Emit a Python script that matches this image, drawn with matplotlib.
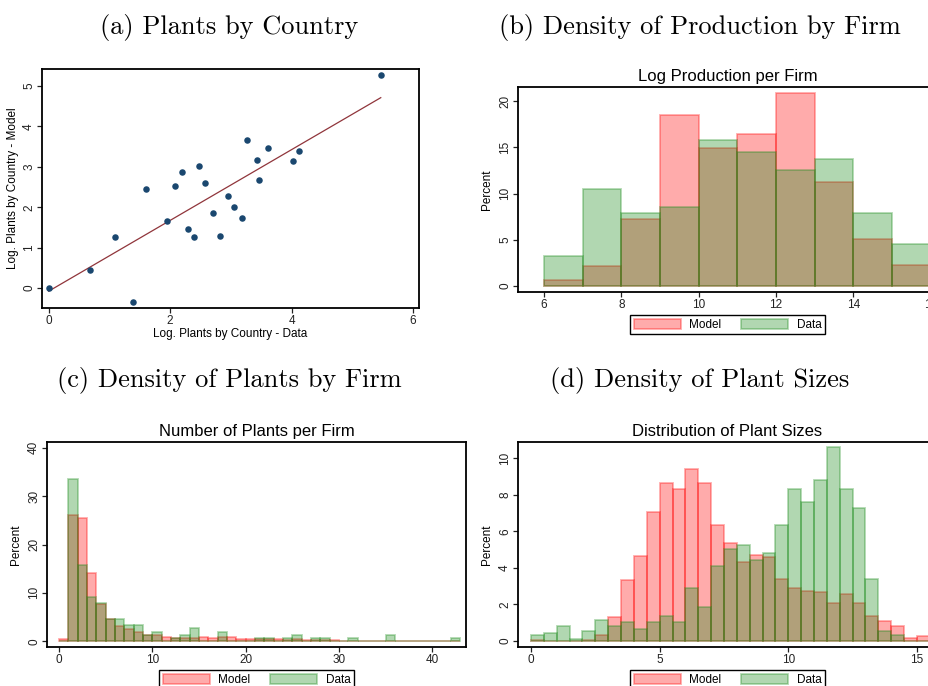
import numpy as np
import matplotlib
matplotlib.use("Agg")
import matplotlib.pyplot as plt

plt.rcParams["font.family"] = ["Liberation Sans", "DejaVu Sans"]

W, H = 929, 686

# (a) log plants by country: data vs model
country_data = [0.0, 0.687, 1.10, 1.385, 1.60, 1.945, 2.077, 2.198, 2.30, 2.40, 2.48, 2.57,
                2.71, 2.83, 2.95, 3.05, 3.18, 3.26, 3.43, 3.47, 3.62, 4.03, 4.12, 5.47]
country_model = [0.0, 0.46, 1.27, -0.34, 2.46, 1.65, 2.53, 2.87, 1.46, 1.26, 3.02, 2.61,
                 1.86, 1.29, 2.29, 2.01, 1.74, 3.66, 3.18, 2.67, 3.46, 3.14, 3.40, 5.26]

# (b) log production per firm, bins of width 1 starting at 6
prod_edges = np.arange(6, 16)
prod_model = [0.65, 2.17, 7.3, 18.5, 14.9, 16.5, 20.9, 11.3, 5.1, 2.24]
prod_data = [3.25, 10.5, 7.9, 8.6, 15.8, 14.5, 12.6, 13.8, 7.9, 4.6]

# (c) number of plants per firm, bins of width 1 starting at 0
plants_edges = np.arange(0, 43)
plants_model = [0.5, 26.1, 25.5, 14.1, 7.6, 4.6, 3.2, 2.6, 2.0, 1.3, 1.2, 0.97, 0.76, 0.62,
                0.76, 0.97, 0.69, 0.97, 0.97, 0.55, 0.55, 0.48, 0.48, 0.55, 0.34, 0.48, 0.34,
                0.34, 0.34, 0.34, 0.14, 0.14, 0, 0, 0, 0, 0, 0, 0, 0, 0, 0, 0]
plants_data = [0, 33.6, 15.8, 9.2, 7.9, 4.6, 4.6, 3.3, 3.3, 1.3, 1.97, 0, 0.66, 1.32,
               2.63, 0, 0, 1.97, 0, 0, 0, 0.66, 0.66, 0, 0.66, 1.32, 0, 0.66, 0.66, 0,
               0, 0.66, 0, 0, 0, 1.32, 0, 0, 0, 0, 0, 0, 0.66]

# (d) plant sizes, bins of width 0.5 starting at 0
size_edges = np.arange(0, 15.5, 0.5)
size_model = [0.05, 0, 0, 0, 0.05, 0.35, 1.33, 3.36, 4.68, 7.09, 8.68, 8.3, 9.4, 8.63, 6.38,
              5.39, 4.33, 4.73, 4.62, 3.42, 2.92, 2.76, 2.7, 2.1, 2.6, 2.08, 1.39, 1.12, 0.8,
              0.18, 0.29]
size_data = [0.35, 0.45, 0.82, 0.13, 0.57, 1.17, 0.82, 1.06, 0.68, 1.06, 1.39, 1.06, 2.92,
             1.88, 4.11, 5.05, 5.28, 4.46, 4.84, 6.33, 8.35, 7.64, 8.83, 10.6, 8.35, 7.3,
             3.4, 0.57, 0.35, 0, 0]

RED = (1.0, 0.0, 0.0, 0.33)
GREEN = (0.11, 0.55, 0.11, 0.34)
NAVY = "#1a476f"
MAROON = "#90353b"


def px_axes(fig, left, top, right, bottom):
    return fig.add_axes([left / W, 1 - bottom / H, (right - left) / W, (bottom - top) / H])


def stata_style(ax):
    for s in ax.spines.values():
        s.set_linewidth(1.3)
        s.set_color("black")
    ax.tick_params(direction="out", length=3.5, width=0.9, labelsize=8.5, pad=1.5, colors="#222222")
    for lab in ax.get_yticklabels():
        lab.set_rotation(90)
        lab.set_va("center")


def hist_panel(ax, edges, model, data, width, title):
    ax.bar(edges, model, width=width, align="edge", color=RED, edgecolor=RED, linewidth=1.3)
    ax.bar(edges, data, width=width, align="edge", color=GREEN, edgecolor=GREEN, linewidth=1.3)
    ax.set_title(title, fontsize=12, pad=4)
    ax.set_ylabel("Percent", fontsize=8.5, labelpad=4)
    leg = ax.legend(["Model", "Data"], loc="upper center", bbox_to_anchor=(0.5, -0.085),
                    ncol=2, fancybox=False, edgecolor="black", fontsize=8.5,
                    handlelength=4.0, handleheight=0.9, columnspacing=1.7,
                    borderpad=0.3, handletextpad=0.7, framealpha=1)
    leg.get_frame().set_linewidth(1.0)


fig = plt.figure(figsize=(W / 100, H / 100), dpi=100)

caption_font = dict(family="cmr10", fontsize=19, ha="center", va="baseline")
fig.text(229.5 / W, 1 - 34 / H, "(a) Plants by Country", **caption_font)
fig.text(700 / W, 1 - 34 / H, "(b) Density of Production by Firm", **caption_font)
fig.text(229.5 / W, 1 - 387 / H, "(c) Density of Plants by Firm", **caption_font)
fig.text(700 / W, 1 - 387 / H, "(d) Density of Plant Sizes", **caption_font)

# (a)
ax = px_axes(fig, 42, 69, 419, 308)
ax.scatter(country_data, country_model, s=22, color=NAVY, zorder=3, linewidths=0)
slope, intercept = np.polyfit(country_data, country_model, 1)
xs = np.array([min(country_data), max(country_data)])
ax.plot(xs, intercept + slope * xs, color=MAROON, linewidth=0.9, zorder=2)
ax.set_xlim(-0.11, 6.1)
ax.set_ylim(-0.49, 5.42)
ax.set_xticks([0, 2, 4, 6])
ax.set_yticks([0, 1, 2, 3, 4, 5])
ax.set_xlabel("Log. Plants by Country - Data", fontsize=8.5, labelpad=1)
ax.set_ylabel("Log. Plants by Country - Model", fontsize=8.5, labelpad=3)
stata_style(ax)

# (b)
ax = px_axes(fig, 518, 87, 937, 292)
hist_panel(ax, prod_edges, prod_model, prod_data, 1.0, "Log Production per Firm")
ax.set_xlim(5.33, 16.16)
ax.set_ylim(-0.65, 21.55)
ax.set_xticks([6, 8, 10, 12, 14, 16])
ax.set_yticks([0, 5, 10, 15, 20])
stata_style(ax)

# (c)
ax = px_axes(fig, 47, 442, 466, 647)
hist_panel(ax, plants_edges, plants_model, plants_data, 1.0, "Number of Plants per Firm")
ax.set_xlim(-1.3, 43.6)
ax.set_ylim(-1.2, 41.2)
ax.set_xticks([0, 10, 20, 30, 40])
ax.set_yticks([0, 10, 20, 30, 40])
stata_style(ax)

# (d)
ax = px_axes(fig, 518, 442, 937, 647)
hist_panel(ax, size_edges, size_model, size_data, 0.5, "Distribution of Plant Sizes")
ax.set_xlim(-0.505, 15.78)
ax.set_ylim(-0.33, 10.9)
ax.set_xticks([0, 5, 10, 15])
ax.set_yticks([0, 2, 4, 6, 8, 10])
stata_style(ax)

fig.savefig("out.png", dpi=100)
